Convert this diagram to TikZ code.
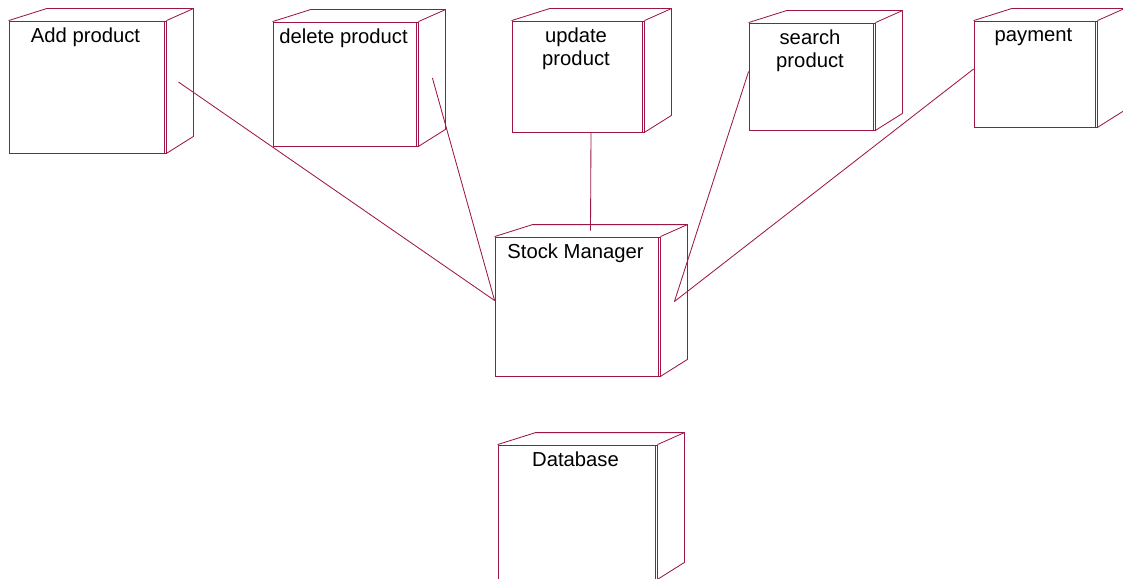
\documentclass[tikz,border=0pt]{standalone}
\usepackage{fontspec}
\setmainfont{Liberation Sans}
\usepackage{tikz}
\usetikzlibrary{calc,fit}
\definecolor{roseline}{RGB}{158,22,72}

\begin{document}
\begin{tikzpicture}[
      x=0.025cm, y=-0.025cm,
      font=\fontsize{14.4}{16.5}\selectfont,
      devbox/.style={draw=roseline, line width=0.6pt, inner sep=0pt},
      face/.style={draw=roseline, line width=0.6pt, line join=round},
      link/.style={roseline, line width=0.6pt},
      lbl/.style={anchor=north, inner sep=0pt, yshift=-0.18cm, xshift=-0.05cm, align=center}
    ]
    \useasboundingbox (0,0) rectangle (1123,578);

    \node[devbox, fit={(9,21) (166,153)}, label={[lbl]north:Add product}] (add) {};
    \node[devbox, fit={(273,22) (418,146)}, label={[lbl]north:delete product}] (del) {};
    \node[devbox, fit={(512,21) (644,132)}, label={[lbl]north:update\\product}] (upd) {};
    \node[devbox, fit={(749,23) (875,130)}, label={[lbl]north:search\\product}] (srch) {};
    \node[devbox, fit={(974,21) (1097,127)}, label={[lbl]north:payment}] (pay) {};
    \node[devbox, fit={(495,237) (660,376)}, label={[lbl]north:Stock Manager}] (stock) {};
    \node[devbox, fit={(498,445) (657,579)}, label={[lbl]north:Database}] (db) {};

    % side and top faces
    \foreach \n in {add,del,upd,srch,pay,stock,db} {
      \draw[face] (\n.north west) -- ++(38,-12) -- ($(\n.north east)+(27,-12)$)
        -- ($(\n.south east)+(27,-17)$) -- (\n.south east);
      \draw[face] (\n.north east) -- ++(27,-12);
      \draw[face] ($(\n.north east)+(-2,0)$) -- ($(\n.south east)+(-2,0)$);
    }

    % links to the stock manager
    \draw[link] ($(add.east)+(12,-5)$) -- ($(stock.west)+(0,-6)$);
    \draw[link] ($(del.east)+(14,-6)$) -- ($(stock.west)+(0,-6)$);
    \draw[link] ($(upd.south)+(13,0)$) -- ($(stock.north)+(13,-6)$);
    \draw[link] ($(srch.west)+(0,-5)$) -- ($(stock.east)+(14,-5)$);
    \draw[link] ($(pay.west)+(0,-5)$) -- ($(stock.east)+(14,-5)$);
\end{tikzpicture}
\end{document}
